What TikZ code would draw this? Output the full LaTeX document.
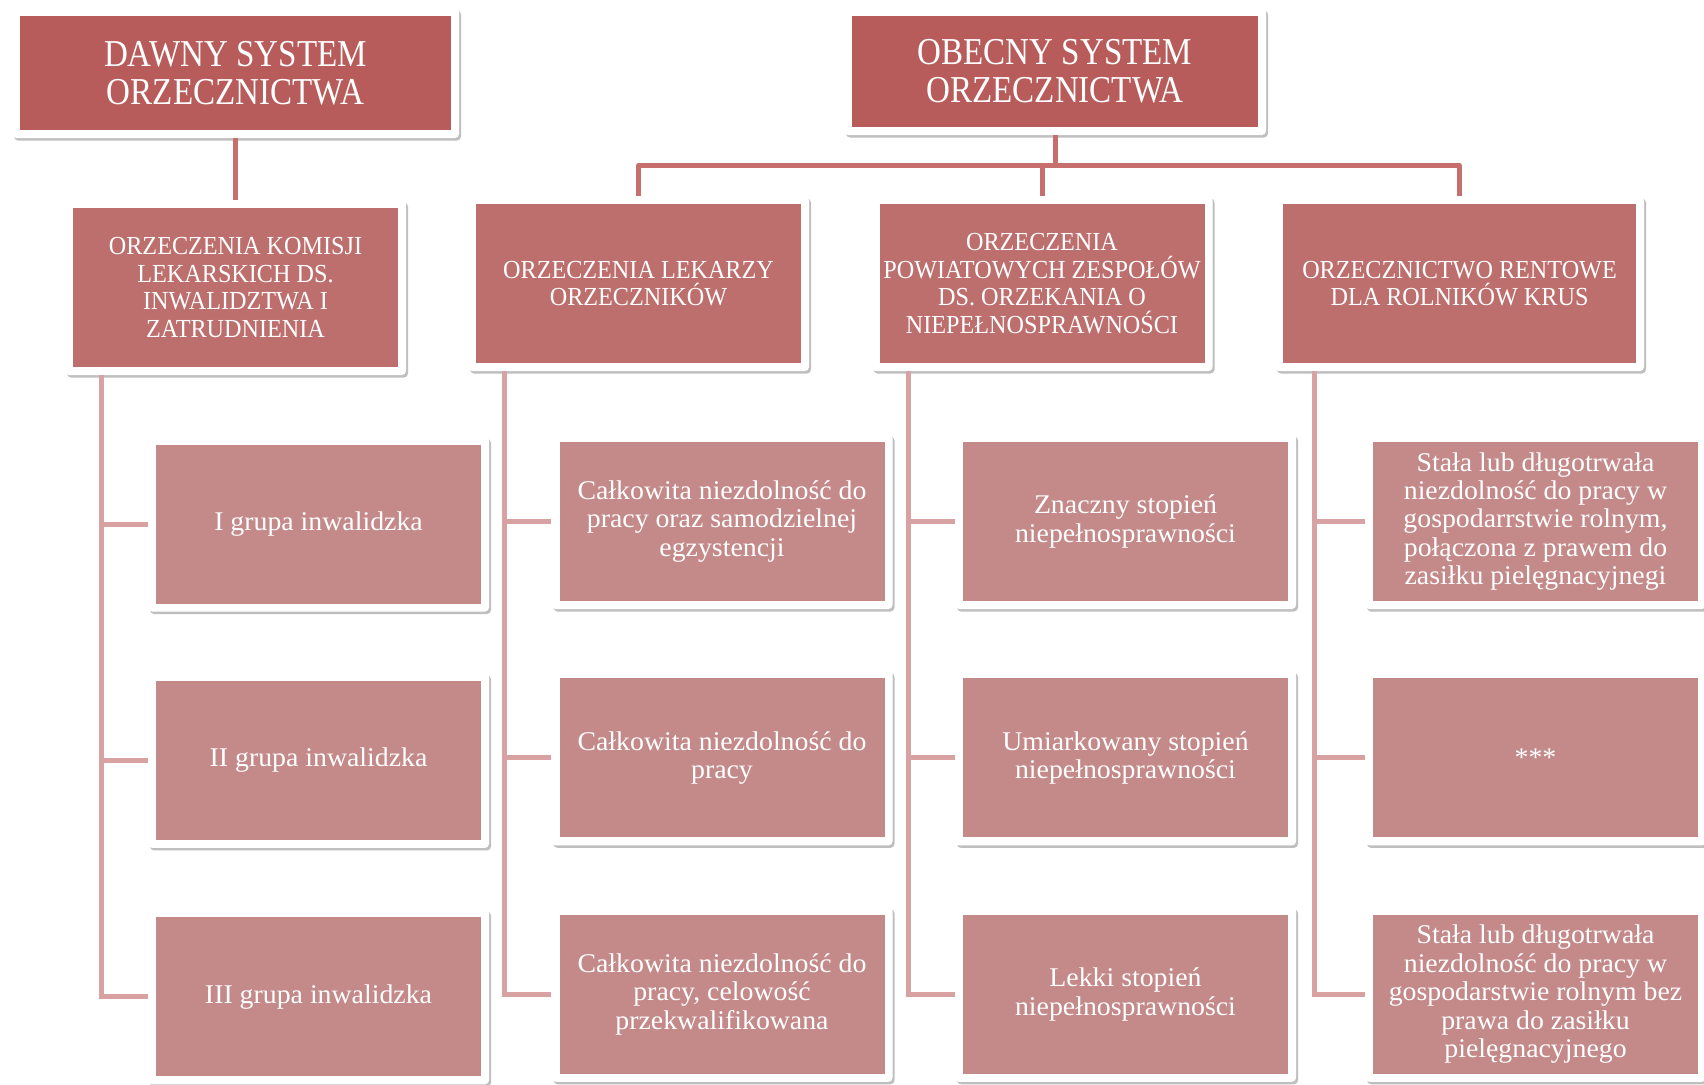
\documentclass[tikz,border=0pt]{standalone}
\usepackage{fontspec}
\setmainfont{Liberation Serif}
\newfontfamily\headfont[FakeStretch=0.87]{Liberation Serif}
\newfontfamily\midfont[FakeStretch=0.93]{Liberation Serif}
\newfontfamily\itemfont[FakeStretch=1.03]{Liberation Serif}
\usetikzlibrary{positioning,shadows}

\definecolor{topred}{HTML}{B75C5A}
\definecolor{midred}{HTML}{BD6F6D}
\definecolor{lowred}{HTML}{C48A89}
\definecolor{toplink}{HTML}{C66F6D}
\definecolor{lowlink}{HTML}{D8A2A2}

% red face inside the white frame
\newcommand{\insetfill}[1]{\fill[#1, sharp corners] ([xshift=8pt,yshift=-8pt]path picture bounding box.north west)
	rectangle ([xshift=-8pt,yshift=8pt]path picture bounding box.south east);}

\begin{document}
\begin{tikzpicture}[x=1pt, y=-1pt, node distance=61pt]
		
		\tikzstyle{frame}=[rectangle, fill=white, rounded corners=4pt, inner sep=0pt,
		align=center, text=white,
		drop shadow={shadow xshift=2pt, shadow yshift=-2.5pt, opacity=0.25, fill=black}]
		\tikzstyle{sysbox}=[frame, minimum height=130pt,
		font=\headfont\fontsize{38}{38}\selectfont, path picture={\insetfill{topred}}]
		\tikzstyle{groupbox}=[frame, minimum width=341pt, minimum height=175pt,
		font=\midfont\fontsize{26}{27.5}\selectfont, path picture={\insetfill{midred}}]
		\tikzstyle{itembox}=[frame, minimum width=341pt, minimum height=175pt,
		font=\itemfont\fontsize{27}{28.4}\selectfont, path picture={\insetfill{lowred}}]
		\tikzstyle{toplink}=[draw=toplink, line width=5pt, line join=round]
		\tikzstyle{lowlink}=[draw=lowlink, line width=5pt]
		
		\useasboundingbox (0,0) rectangle (1704,1084);
		
		% System headers
		\node[sysbox, minimum width=447pt] (dawny) at (235.5,73) {DAWNY SYSTEM\\ORZECZNICTWA};
		\node[sysbox, minimum width=422pt, minimum height=127pt] (obecny) at (1055,71.5)
		{OBECNY SYSTEM\\ORZECZNICTWA};
		
		% Kinds of rulings
		\node[groupbox] (komisji) at (235.5,287.5)
		{ORZECZENIA KOMISJI\\LEKARSKICH DS.\\INWALIDZTWA I\\ZATRUDNIENIA};
		\node[groupbox] (lekarzy) at (638.5,283.5) {ORZECZENIA LEKARZY\\ORZECZNIKÓW};
		\node[groupbox] (powiat) at (1042,283.5)
		{ORZECZENIA\\POWIATOWYCH ZESPOŁÓW\\DS. ORZEKANIA O\\NIEPEŁNOSPRAWNOŚCI};
		\node[groupbox, minimum width=369pt] (rentowe) at (1459.5,283.5)
		{ORZECZNICTWO RENTOWE\\DLA ROLNIKÓW KRUS};
		
		% Invalidity groups
		\node[itembox] (inw1) at (318.5,524) {I grupa inwalidzka};
		\node[itembox, below=of inw1] (inw2) {II grupa inwalidzka};
		\node[itembox, below=of inw2] (inw3) {III grupa inwalidzka};
		
		% Incapacity for work
		\node[itembox] (lek1) at (722,521.5)
		{Całkowita niezdolność do\\pracy oraz samodzielnej\\egzystencji};
		\node[itembox, below=of lek1] (lek2) {Całkowita niezdolność do\\pracy};
		\node[itembox, below=of lek2] (lek3)
		{Całkowita niezdolność do\\pracy, celowość\\przekwalifikowana};
		
		% Degrees of disability
		\node[itembox] (st1) at (1125.5,521.5) {Znaczny stopień\\niepełnosprawności};
		\node[itembox, below=of st1] (st2) {Umiarkowany stopień\\niepełnosprawności};
		\node[itembox, below=of st2] (st3) {Lekki stopień\\niepełnosprawności};
		
		% KRUS
		\node[itembox] (kr1) at (1535.5,521.5)
		{Stała lub długotrwała\\niezdolność do pracy w\\gospodarrstwie rolnym,\\połączona z prawem do\\zasiłku pielęgnacyjnegi};
		\node[itembox, below=of kr1] (kr2) {***};
		\node[itembox, below=of kr2] (kr3)
		{Stała lub długotrwała\\niezdolność do pracy w\\gospodarstwie rolnym bez\\prawa do zasiłku\\pielęgnacyjnego};
		
		% Header links
		\coordinate (bus) at (1055,165.5);
		\draw[toplink] (dawny) -- (komisji);
		\draw[toplink] (obecny) -- (bus);
		\draw[toplink] (lekarzy.north) |- (bus) -| (rentowe.north);
		\draw[toplink] (powiat) -- (powiat |- bus);
		
		% Trunks and branches
		\foreach \p/\off/\a/\b/\c in {komisji/37/inw1/inw2/inw3, lekarzy/37/lek1/lek2/lek3,
			powiat/37.5/st1/st2/st3, rentowe/40/kr1/kr2/kr3} {
			\coordinate (trunk) at ([xshift=\off pt]\p.south west);
			\draw[lowlink] (trunk) |- (\c);
			\draw[lowlink] (\a) -- (\a -| trunk);
			\draw[lowlink] (\b) -- (\b -| trunk);
		}
		
\end{tikzpicture}
\end{document}
